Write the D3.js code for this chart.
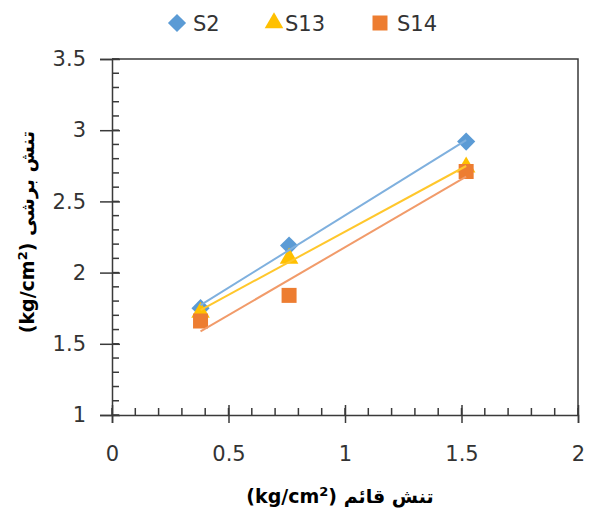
<!DOCTYPE html>
<html>
<head>
<meta charset="utf-8">
<script src="https://cdn.jsdelivr.net/npm/d3@7"></script>
<style>
  html, body { margin: 0; padding: 0; background: #fff; }
  svg { display: block; font-family: "DejaVu Sans", sans-serif; }
</style>
</head>
<body>
<svg id="chart" width="590" height="513"></svg>
<script>
// ---- data ----
const seriesNames = ["S2", "S13", "S14"];
const normalStress = [0.38, 0.76, 1.52];
const s2Values = [1.75, 2.19, 2.92];
const s13Values = [1.72, 2.10, 2.74];
const s14Values = [1.66, 1.84, 2.71];
const xTicks = [0, 0.5, 1, 1.5, 2];
const yTicks = [1, 1.5, 2, 2.5, 3, 3.5];
const xTitle = "تنش قائم";
const yTitle = "تنش برشی";

const colors = ["#5B9BD5", "#FFC000", "#ED7D31"];
const lineColors = ["#7FB0DE", "#FFC72C", "#F19B6A"];
const shapes = [d3.symbolSquare, d3.symbolTriangle, d3.symbolSquare];
const rotations = [45, 0, 0];
const sizes = [165, 150, 225];
const valuesList = [s2Values, s13Values, s14Values];

const svg = d3.select("#chart");
const x = d3.scaleLinear().domain([0, 2]).range([112, 578]);
const y = d3.scaleLinear().domain([1, 3.5]).range([415, 59]);
const axisColor = "#3a3a3a";

// plot border (top & right)
svg.append("path")
  .attr("d", `M${x(0)},${y(3.5)} H${x(2)} V${y(1)}`)
  .attr("fill", "none").attr("stroke", axisColor).attr("stroke-width", 1.5);

// minor ticks
const xMinor = d3.range(0, 2.0001, 0.1).map(v => +v.toFixed(1));
const yMinor = d3.range(1, 3.5001, 0.1).map(v => +v.toFixed(1));
svg.append("g").selectAll("line").data(xMinor).join("line")
  .attr("x1", d => x(d)).attr("x2", d => x(d))
  .attr("y1", y(1)).attr("y2", y(1) - 7)
  .attr("stroke", axisColor).attr("stroke-width", 1.5);
svg.append("g").selectAll("line").data(yMinor).join("line")
  .attr("y1", d => y(d)).attr("y2", d => y(d))
  .attr("x1", x(0)).attr("x2", x(0) + 7)
  .attr("stroke", axisColor).attr("stroke-width", 1.5);

// x axis
const gx = svg.append("g").attr("transform", `translate(0,${y(1)})`)
  .call(d3.axisBottom(x).tickValues(xTicks).tickFormat(d3.format("")).tickSize(8).tickPadding(23));
gx.selectAll(".tick line").attr("y1", -10);
// y axis
const gy = svg.append("g").attr("transform", `translate(${x(0)},0)`)
  .call(d3.axisLeft(y).tickValues(yTicks).tickFormat(d3.format("")).tickSize(12).tickPadding(14));
gy.selectAll(".tick line").attr("x1", 8);

[gx, gy].forEach(g => {
  g.select(".domain").attr("stroke", axisColor).attr("stroke-width", 1.5);
  g.selectAll(".tick line").attr("stroke", axisColor).attr("stroke-width", 1.5);
  g.selectAll(".tick text").attr("fill", "#333")
    .style("font-family", "DejaVu Sans, sans-serif").style("font-size", "21px");
});

const sym = i => d3.symbol().type(shapes[i]).size(sizes[i]);

// markers
valuesList.forEach((vals, i) => {
  const pts = normalStress.map((xv, j) => [xv, vals[j]]);
  svg.append("g").selectAll("path").data(pts).join("path")
    .attr("transform", d => `translate(${x(d[0])},${y(d[1])}) rotate(${rotations[i]})`)
    .attr("d", sym(i))
    .attr("fill", colors[i]);
});

// linear trendlines (least squares from the data)
valuesList.forEach((vals, i) => {
  const mx = d3.mean(normalStress), my = d3.mean(vals);
  let sxy = 0, sxx = 0;
  normalStress.forEach((xv, j) => { sxy += (xv - mx) * (vals[j] - my); sxx += (xv - mx) ** 2; });
  const slope = sxy / sxx, icpt = my - slope * mx;
  const x0 = d3.min(normalStress), x1 = d3.max(normalStress);
  svg.append("line")
    .attr("x1", x(x0)).attr("y1", y(icpt + slope * x0))
    .attr("x2", x(x1)).attr("y2", y(icpt + slope * x1))
    .attr("stroke", lineColors[i]).attr("stroke-width", 2);
});

// legend
const legendX = [177, 274, 380];
const legendTextX = [193, 285, 397];
seriesNames.forEach((name, i) => {
  svg.append("path")
    .attr("transform", `translate(${legendX[i]},23) rotate(${rotations[i]})`)
    .attr("d", sym(i))
    .attr("fill", colors[i]);
  svg.append("text")
    .attr("x", legendTextX[i]).attr("y", 23).attr("dy", "0.36em")
    .attr("fill", "#333").style("font-size", "21px")
    .text(name);
});

// axis titles
function title(sel, persian) {
  sel.attr("text-anchor", "middle").attr("fill", "#000")
    .style("font-weight", "bold").style("font-size", "19px");
  sel.append("tspan").text("(kg/cm");
  sel.append("tspan").attr("baseline-shift", "super").style("font-size", "13px").text("2");
  sel.append("tspan").text(")\u00A0" + "\u200E");
  sel.append("tspan").text(persian);
}
title(svg.append("text").attr("x", 340).attr("y", 503), xTitle);
title(svg.append("text").attr("transform", "translate(34,232) rotate(-90)"), yTitle);
</script>
</body>
</html>
